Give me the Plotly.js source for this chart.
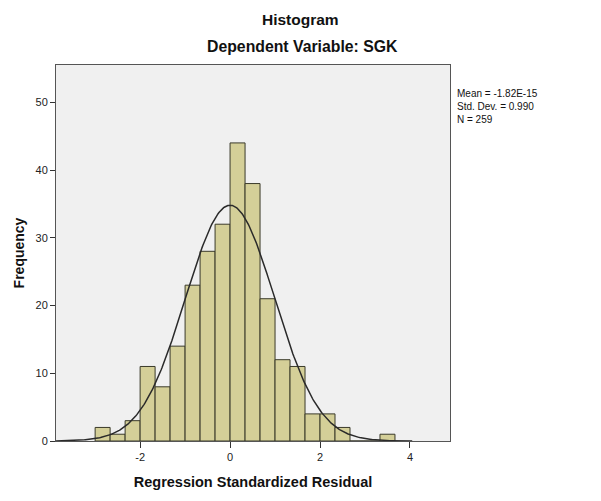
<!DOCTYPE html>
<html>
<head>
<meta charset="utf-8">
<script src="https://cdn.plot.ly/plotly-3.0.1.min.js"></script>
<style>html,body{margin:0;padding:0;background:#fff;}#chart{width:601px;height:501px;}</style>
</head>
<body>
<div id="chart"></div>
<script>
// Histogram bins (lower edges) and frequencies
const binLower = [-3, -2.6667, -2.3333, -2, -1.6667, -1.3333, -1, -0.6667, -0.3333, 0, 0.3333, 0.6667, 1, 1.3333, 1.6667, 2, 2.3333, 2.6667, 3, 3.3333];
const counts   = [2, 1, 3, 11, 8, 14, 23, 28, 32, 44, 38, 21, 12, 11, 4, 4, 2, 0, 0, 1];
const binWidth = 1/3;
// Summary statistics shown on the chart
const meanVal = -1.82e-15;
const sdVal = 0.990;
const nVal = 259;
const statLines = ["Mean = -1.82E-15", "Std. Dev. = 0.990", "N = 259"];
const xTicks = [-2, 0, 2, 4];
const yTicks = [0, 10, 20, 30, 40, 50];

const centers = binLower.map(b => b + binWidth / 2);

// Normal curve implied by the stated mean, SD and N
const curveX = [];
for (let i = 0; i <= 400; i++) curveX.push(-3.87 + i * (4.05 + 3.87) / 400);
const curveY = curveX.map(x => nVal * binWidth / (sdVal * Math.sqrt(2 * Math.PI)) * Math.exp(-0.5 * Math.pow((x - meanVal) / sdVal, 2)));

const font = "Arial, 'Liberation Sans', sans-serif";

const traces = [
  {
    type: 'bar', x: centers, y: counts, width: binWidth,
    marker: {color: '#d4cf98', line: {color: '#3a3a2a', width: 1}},
    hoverinfo: 'x+y'
  },
  {
    type: 'scatter', mode: 'lines', x: curveX, y: curveY,
    line: {color: '#2a2a2a', width: 1.5}, hoverinfo: 'skip'
  }
];

const layout = {
  width: 601, height: 501,
  margin: {l: 56, r: 151, t: 65, b: 60},
  paper_bgcolor: '#ffffff', plot_bgcolor: '#f0f0f0',
  showlegend: false, bargap: 0,
  font: {family: font, color: '#000'},
  xaxis: {
    range: [-3.87, 4.89], tickvals: xTicks, ticktext: xTicks.map(String),
    ticks: 'outside', ticklen: 6, tickcolor: '#333', tickwidth: 1,
    showgrid: false, zeroline: false, showline: true, linecolor: '#555', linewidth: 1, mirror: true,
    tickfont: {size: 11, family: font, color: '#222'},
    title: {text: 'Regression Standardized Residual', font: {size: 14.5, family: font, color: '#111', weight: 'bold'}, standoff: 14}
  },
  yaxis: {
    range: [0, 55.5], tickvals: yTicks, ticktext: yTicks.map(String),
    ticks: 'outside', ticklen: 5, tickcolor: '#333', tickwidth: 1,
    showgrid: false, zeroline: false, showline: true, linecolor: '#555', linewidth: 1, mirror: true,
    tickfont: {size: 11, family: font, color: '#222'},
    title: {text: 'Frequency', font: {size: 14, family: font, color: '#111', weight: 'bold'}, standoff: 7}
  },
  annotations: [
    {text: '<b>Histogram</b>', xref: 'paper', yref: 'paper', x: (300 - 56) / 394, y: (441 - 20) / 376, xanchor: 'center', yanchor: 'middle', showarrow: false, font: {size: 15.5, family: font, color: '#111'}},
    {text: '<b>Dependent Variable: SGK</b>', xref: 'paper', yref: 'paper', x: (302 - 56) / 394, y: (441 - 46) / 376, xanchor: 'center', yanchor: 'middle', showarrow: false, font: {size: 15.8, family: font, color: '#111'}},
    {text: statLines.join('<br>'), xref: 'paper', yref: 'paper', x: (455 - 56) / 394, y: (441 - 86) / 376, xanchor: 'left', yanchor: 'top', align: 'left', showarrow: false, font: {size: 10, family: font, color: '#111'}}
  ]
};

Plotly.newPlot('chart', traces, layout, {staticPlot: true, displayModeBar: false});
</script>
</body>
</html>
